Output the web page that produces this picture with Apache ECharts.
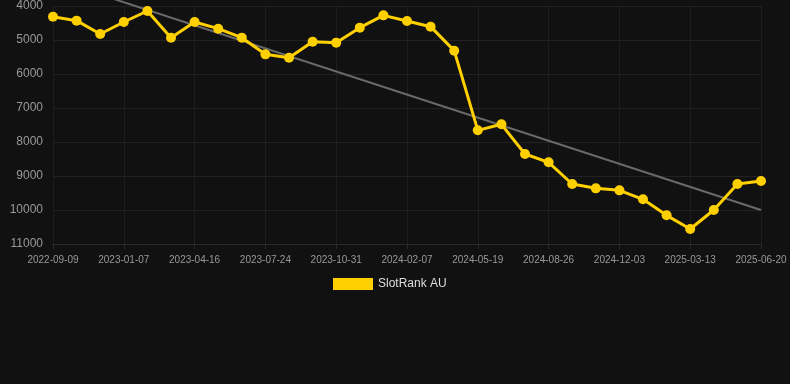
<!DOCTYPE html>
<html>
<head>
<meta charset="utf-8">
<script src="https://cdn.jsdelivr.net/npm/echarts@6/dist/echarts.min.js"></script>
<style>
html,body{margin:0;padding:0;background:#111111;}
#c{width:790px;height:384px;}
</style>
</head>
<body>
<div id="c"></div>
<script>
const categories = [
  '2022-09-09','2022-10-19','2022-11-28','2023-01-07','2023-02-09','2023-03-14',
  '2023-04-16','2023-05-19','2023-06-21','2023-07-24','2023-08-26','2023-09-28',
  '2023-10-31','2023-12-03','2024-01-05','2024-02-07','2024-03-11','2024-04-15',
  '2024-05-19','2024-06-21','2024-07-24','2024-08-26','2024-09-28','2024-10-31',
  '2024-12-03','2025-01-05','2025-02-08','2025-03-13','2025-04-15','2025-05-18',
  '2025-06-20'
];
const rankValues = [
  4314, 4431, 4824, 4471, 4147, 4931, 4471, 4667, 4931, 5422, 5520,
  5049, 5078, 4637, 4275, 4441, 4608, 5314, 7657, 7480, 8353, 8598,
  9235, 9363, 9422, 9686, 10157, 10559, 10000, 9235, 9147
];
const trendStart = ['2022-09-09', 3210];
const trendEnd = ['2025-06-20', 10000];
const yTicks = { min: 4000, max: 11000, interval: 1000 };

const chart = echarts.init(document.getElementById('c'));
chart.setOption({
  backgroundColor: '#111111',
  animation: false,
  grid: { left: 53, right: 29, top: 6, bottom: 140, outerBoundsMode: 'none', containLabel: false },
  legend: {
    top: 273,
    left: 328,
    itemWidth: 40,
    itemHeight: 12,
    itemGap: 10,
    icon: 'rect',
    data: [{ name: 'SlotRank AU', icon: 'rect' }],
    textStyle: { color: '#dddddd', fontSize: 12, fontFamily: 'Liberation Sans, Arial, sans-serif' }
  },
  xAxis: {
    type: 'category',
    boundaryGap: false,
    data: categories,
    axisLine: { show: true, lineStyle: { color: '#2a2a2a' } },
    axisTick: { show: true, interval: 2, lineStyle: { color: '#2a2a2a' } },
    axisLabel: { interval: 2, color: '#999999', fontSize: 10, margin: 11, fontFamily: 'Liberation Sans, Arial, sans-serif' },
    splitLine: { show: true, interval: 2, lineStyle: { color: '#1e1e1e' } }
  },
  yAxis: {
    type: 'value',
    inverse: true,
    min: yTicks.min,
    max: yTicks.max,
    interval: yTicks.interval,
    axisLine: { show: false },
    axisTick: { show: false },
    axisLabel: {
      color: '#999999', fontSize: 12, margin: 10,
      fontFamily: 'Liberation Sans, Arial, sans-serif',
      formatter: v => String(v)
    },
    splitLine: { show: true, lineStyle: { color: '#222222' } }
  },
  series: [
    {
      name: 'trend',
      type: 'line',
      data: [trendStart, trendEnd],
      clip: false,
      showSymbol: false,
      symbol: 'none',
      silent: true,
      lineStyle: { color: '#6a6a6a', width: 2 },
      z: 1
    },
    {
      name: 'SlotRank AU',
      type: 'line',
      data: rankValues,
      symbol: 'circle',
      symbolSize: 10,
      itemStyle: { color: '#ffd000' },
      lineStyle: { color: '#ffd000', width: 3 },
      z: 3
    }
  ]
});
</script>
</body>
</html>
